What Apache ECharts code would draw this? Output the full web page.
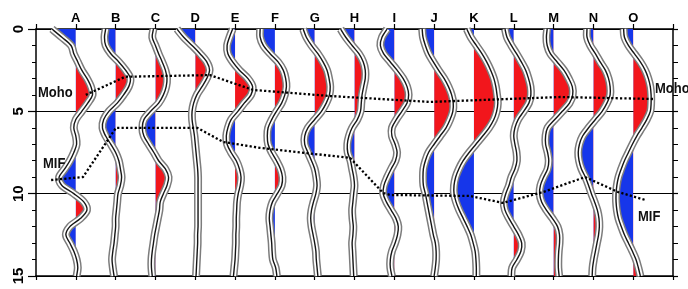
<!DOCTYPE html>
<html>
<head>
<meta charset="utf-8">
<script src="https://cdn.jsdelivr.net/npm/echarts@6/dist/echarts.min.js"></script>
<style>
html,body{margin:0;padding:0;background:#fff}
#chart{width:688px;height:289px}
</style>
</head>
<body>
<div id="chart"></div>
<script>
// station names along the top
var stations = ['A','B','C','D','E','F','G','H','I','J','K','L','M','N','O'];
// depth samples (km) for each trace
var depths = [0,0.5,1,1.5,2,2.5,3,3.5,4,4.5,5,5.5,6,6.5,7,7.5,8,8.5,9,9.5,10,10.5,11,11.5,12,12.5,13,13.5,14,14.5,15];
var yTicks = [0,5,10,15];

// trace amplitudes, in station-spacing units (+ = right / red)
var traceA = [-0.6,-0.35,-0.12,-0.05,0.05,0.15,0.28,0.38,0.42,0.3,0.15,0,-0.05,0,0.02,-0.05,-0.15,-0.28,-0.42,-0.35,-0.05,0.2,0.28,0.12,-0.15,-0.25,-0.15,-0.05,0.02,0.05,0.02];
var traceB = [-0.25,-0.28,-0.25,-0.12,0.08,0.25,0.37,0.33,0.2,0.04,-0.17,-0.3,-0.33,-0.25,-0.12,0,0.08,0.12,0.15,0.12,0.06,0.04,0.02,0,0,-0.02,-0.04,-0.07,-0.09,-0.07,-0.04];
var traceC = [-0.05,-0.08,0,0.08,0.17,0.25,0.29,0.27,0.2,0.08,-0.12,-0.29,-0.33,-0.29,-0.17,-0.04,0.08,0.25,0.33,0.29,0.2,0.12,0.1,0.06,0.02,-0.02,-0.05,-0.08,-0.1,-0.1,-0.08];
var traceD = [-0.46,-0.29,-0.08,0.12,0.29,0.36,0.29,0.17,0.04,-0.04,-0.08,-0.08,-0.05,-0.02,0,0.02,0.04,0.06,0.07,0.07,0.07,0.07,0.07,0.07,0.07,0.06,0.06,0.05,0.04,0.03,0.02];
var traceE = [-0.06,-0.14,-0.2,-0.18,-0.06,0.11,0.32,0.44,0.4,0.23,0.07,-0.1,-0.18,-0.22,-0.2,-0.1,0.03,0.11,0.15,0.13,0.08,0.05,0.04,0.03,0.03,0.02,0.02,0.01,0,-0.02,-0.04];
var traceF = [-0.37,-0.37,-0.29,-0.12,0.08,0.21,0.27,0.29,0.25,0.17,0.04,-0.08,-0.17,-0.19,-0.17,-0.08,0.04,0.14,0.19,0.17,0.06,-0.06,-0.12,-0.14,-0.12,-0.1,-0.08,-0.07,-0.05,0.02,0.05];
var traceG = [-0.29,-0.21,-0.08,0.08,0.21,0.31,0.36,0.39,0.37,0.29,0.17,0,-0.17,-0.25,-0.25,-0.17,-0.08,0,0.04,0.06,0.03,-0.03,-0.08,-0.1,-0.08,-0.04,0,0.03,0.04,0.06,0.08];
var traceH = [-0.35,-0.22,-0.06,0.11,0.22,0.27,0.27,0.23,0.19,0.17,0.15,0.07,-0.06,-0.14,-0.18,-0.17,-0.1,-0.06,-0.02,0,-0.02,-0.04,-0.06,-0.05,-0.03,-0.04,-0.06,-0.05,-0.04,-0.03,-0.02];
var traceI = [-0.18,-0.31,-0.35,-0.27,-0.1,0.07,0.22,0.32,0.36,0.32,0.19,0.05,-0.06,-0.06,0.02,0.07,0.03,-0.08,-0.18,-0.26,-0.28,-0.2,-0.08,0.04,0.1,0.08,0.02,-0.06,-0.1,-0.1,-0.06];
var traceJ = [-0.3,-0.28,-0.22,-0.14,-0.02,0.11,0.25,0.36,0.44,0.48,0.47,0.4,0.3,0.15,0,-0.14,-0.22,-0.27,-0.28,-0.27,-0.22,-0.18,-0.14,-0.1,-0.06,-0.02,0.03,0.05,0.05,0.03,0];
var traceK = [-0.18,-0.08,0.06,0.2,0.32,0.42,0.5,0.55,0.58,0.6,0.57,0.5,0.38,0.22,0.05,-0.12,-0.27,-0.38,-0.46,-0.5,-0.5,-0.45,-0.37,-0.27,-0.17,-0.08,-0.02,0.03,0.05,0.06,0.06];
var traceL = [-0.22,-0.17,-0.06,0.07,0.19,0.3,0.37,0.42,0.43,0.38,0.25,0.11,0.03,0,0.03,0.07,0.08,0.03,-0.06,-0.12,-0.2,-0.25,-0.22,-0.12,0,0.12,0.2,0.18,0.08,-0.04,-0.06];
var traceM = [-0.16,-0.18,-0.16,-0.08,0.09,0.26,0.38,0.47,0.48,0.4,0.22,0.03,-0.15,-0.2,-0.2,-0.15,-0.12,-0.15,-0.25,-0.33,-0.35,-0.3,-0.18,-0.03,0.1,0.15,0.15,0.13,0.12,0.12,0.14];
var traceN = [-0.16,-0.16,-0.08,0.05,0.17,0.3,0.38,0.42,0.42,0.34,0.22,0.05,-0.12,-0.27,-0.35,-0.38,-0.36,-0.3,-0.2,-0.12,-0.05,0.03,0.1,0.14,0.15,0.13,0.09,0.05,0.01,-0.02,-0.03];
var traceO = [-0.24,-0.22,-0.12,0.03,0.18,0.3,0.38,0.43,0.45,0.45,0.43,0.34,0.22,0.09,-0.02,-0.12,-0.22,-0.3,-0.37,-0.41,-0.43,-0.43,-0.41,-0.37,-0.3,-0.22,-0.12,-0.02,0.07,0.13,0.18];
var traces = [traceA,traceB,traceC,traceD,traceE,traceF,traceG,traceH,traceI,traceJ,traceK,traceL,traceM,traceN,traceO];

// picked interfaces: [x position, depth]
var mohoLine = [[1.25,4.0],[2.24,2.9],[4.37,2.8],[5.45,3.7],[7.39,4.07],[9.9,4.43],[13.17,4.13],[15.5,4.25]];
var mifLine = [[0.38,9.17],[1.18,8.99],[2.01,6.0],[4.05,6.0],[4.7,6.86],[5.63,7.22],[7.89,7.83],[8.72,9.96],[8.9,10.08],[10.9,10.14],[11.73,10.56],[12.74,9.9],[13.79,8.99],[14.62,9.9],[15.3,10.38]];

var FONT = "'Liberation Sans',Arial,sans-serif";
var RED = '#f2161c', BLUE = '#1636ea';

// smooth curve through pixel points as svg path
var toPath = function(pts){
    var s = 'M' + pts[0][0] + ' ' + pts[0][1];
    for (var i = 0; i < pts.length - 1; i++) {
        var p0 = pts[i-1] || pts[i], p1 = pts[i], p2 = pts[i+1], p3 = pts[i+2] || p2;
        s += ' C' + (p1[0] + (p2[0]-p0[0])/6) + ' ' + (p1[1] + (p2[1]-p0[1])/6) +
             ' ' + (p2[0] - (p3[0]-p1[0])/6) + ' ' + (p2[1] - (p3[1]-p1[1])/6) +
             ' ' + p2[0] + ' ' + p2[1];
    }
    return s;
};

var renderTrace = function(params, api){
    var k = params.dataIndex, st = k + 1, amp = traces[k];
    var pts = depths.map(function(d, i){ return api.coord([st + amp[i], d]); });
    var top = api.coord([st, depths[0]]), bot = api.coord([st, depths[depths.length-1]]);
    var curve = toPath(pts);
    var area = 'M' + top[0] + ' ' + top[1] + ' L' + curve.slice(1) + ' L' + bot[0] + ' ' + bot[1] + ' Z';
    var h = bot[1] - top[1];
    return {
        type: 'group',
        children: [
            {type:'path', shape:{pathData: area}, style:{fill: RED},
             clipPath:{type:'rect', shape:{x: top[0], y: top[1], width: 80, height: h}}},
            {type:'path', shape:{pathData: area}, style:{fill: BLUE},
             clipPath:{type:'rect', shape:{x: top[0]-80, y: top[1], width: 80, height: h}}},
            {type:'path', shape:{pathData: curve}, style:{fill:'none', stroke:'#7c7c7c', lineWidth: 8}},
            {type:'path', shape:{pathData: curve}, style:{fill:'none', stroke:'#ffffff', lineWidth: 5}},
            {type:'path', shape:{pathData: curve}, style:{fill:'none', stroke:'#151515', lineWidth: 1.4}}
        ]
    };
};

var labelText = function(txt, x, y){
    return {type:'text', x:x, y:y, z:10, scaleY:1.15,
            style:{text:txt, fill:'#111', font:'bold 13px ' + FONT, verticalAlign:'top'}};
};

var chart = echarts.init(document.getElementById('chart'), null, {renderer:'canvas'});
var option = {
    animation: false,
    backgroundColor: '#fff',
    grid: {left: 36, right: 15, top: 29, bottom: 13},
    xAxis: [
        {type:'value', position:'top', min:0, max:16, interval:1,
         axisLine:{show:true, onZero:false, lineStyle:{color:'#000', width:1.5}},
         axisTick:{show:true, length:5, lineStyle:{color:'#000', width:1.2}},
         axisLabel:{formatter:function(v){ return stations[v-1] || ''; }, color:'#000',
                    fontWeight:'bold', fontSize:13, fontFamily:FONT, margin:4},
         splitLine:{show:false}},
        {type:'value', position:'bottom', min:0, max:16, interval:1,
         axisLine:{show:true, onZero:false, lineStyle:{color:'#000', width:1.5}},
         axisTick:{show:true, length:4, lineStyle:{color:'#000', width:1.2}},
         axisLabel:{show:false}, splitLine:{show:false}}
    ],
    yAxis: [
        {type:'value', position:'left', inverse:true, min:yTicks[0], max:yTicks[yTicks.length-1], interval:5,
         axisLine:{show:true, onZero:false, lineStyle:{color:'#000', width:1.5}},
         axisTick:{show:true, length:8, lineStyle:{color:'#000', width:1.2}},
         minorTick:{show:true, splitNumber:5, length:4, lineStyle:{color:'#000', width:1}},
         axisLabel:{rotate:90, color:'#000', fontWeight:'bold', fontSize:15, fontFamily:FONT, margin:10},
         splitLine:{show:true, lineStyle:{color:'#000', width:1.2}}},
        {type:'value', position:'right', inverse:true, min:yTicks[0], max:yTicks[yTicks.length-1], interval:5,
         axisLine:{show:true, onZero:false, lineStyle:{color:'#000', width:1.5}},
         axisTick:{show:true, length:5, lineStyle:{color:'#000', width:1.2}},
         minorTick:{show:true, splitNumber:5, length:5, lineStyle:{color:'#000', width:1}},
         axisLabel:{show:false}, splitLine:{show:false}}
    ],
    series: [
        {type:'custom', coordinateSystem:'cartesian2d', xAxisIndex:0, yAxisIndex:0,
         renderItem: renderTrace, silent:true, z:2,
         data: stations.map(function(s, i){ return [i+1, 7.5]; })},
        {type:'line', name:'Moho', xAxisIndex:0, yAxisIndex:0, data: mohoLine, showSymbol:false, silent:true, z:5,
         lineStyle:{color:'#000', width:2.3, type:[2.2,2.2]}},
        {type:'line', name:'MIF', xAxisIndex:0, yAxisIndex:0, data: mifLine, showSymbol:false, silent:true, z:5,
         lineStyle:{color:'#000', width:2.3, type:[2.2,2.2]}}
    ],
    graphic: [
        labelText('Moho', 38, 85),
        labelText('Moho', 655, 81),
        labelText('MIF', 43, 156),
        labelText('MIF', 638, 209)
    ]
};
chart.setOption(option);
</script>
</body>
</html>
